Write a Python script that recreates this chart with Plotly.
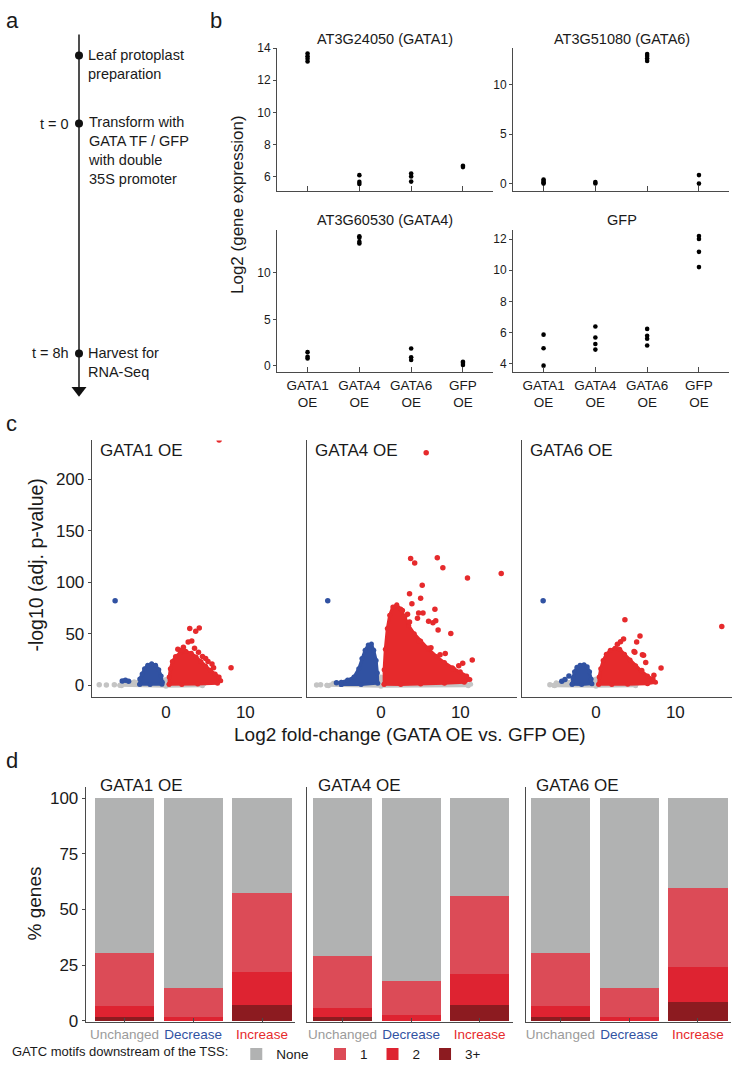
import plotly.graph_objects as go

W, H = 732, 1078
FONT = "Liberation Sans, Arial, Helvetica, sans-serif"
INK = "#1a1a1a"
AXC = "#4a4a4a"
RED = "#e62a2c"
BLUE = "#3152a2"
GRAY = "#c4c4c4"


def px(x):
    return x / W


def py(y):
    return 1 - y / H


# ---------------- panel a : protocol timeline ----------------
timeline_events = ["Leaf protoplast<br>preparation",
                   "Transform with<br>GATA TF / GFP<br>with double<br>35S promoter",
                   "Harvest for<br>RNA-Seq"]
timeline_times = ["", "t = 0", "t = 8h"]

# ---------------- panel b : expression of the transgenes ----------------
b_groups = ["GATA1<br>OE", "GATA4<br>OE", "GATA6<br>OE", "GFP<br>OE"]
b_gene_titles = ["AT3G24050 (GATA1)", "AT3G51080 (GATA6)", "AT3G60530 (GATA4)", "GFP"]
expr_AT3G24050 = [[13.17, 13.33, 13.49, 13.66], [5.55, 5.68, 6.1], [5.7, 6.02, 6.2], [6.6, 6.68]]
expr_AT3G51080 = [[0.0, 0.12, 0.27, 0.42], [0.02, 0.15], [12.4, 12.65, 12.9, 13.1], [0.0, 0.86]]
expr_AT3G60530 = [[0.81, 0.99, 1.48], [13.18, 13.36, 13.78, 13.96], [0.64, 0.92, 1.87], [0.1, 0.3, 0.45]]
expr_GFP = [[3.87, 4.99, 5.86], [4.9, 5.26, 5.68, 6.38], [5.16, 5.6, 5.79, 6.23], [10.2, 11.18, 12.0, 12.2]]

# ---------------- panel c : volcano plots ----------------
c_panels = ["GATA1 OE", "GATA4 OE", "GATA6 OE"]
# GATA1 OE
g1_gray_env_x = [-5.8, -5.5, -4.0, -2.0, 0.0, 2.0, 4.0, 4.8, 4.6, 0.0, -5.6]
g1_gray_env_y = [0.0, 2.5, 3.5, 4.0, 5.5, 4.5, 3.0, 1.5, -0.5, -1.0, -0.5]
g1_gray_x = [-8.4, -7.5, -6.5]
g1_gray_y = [0.5, 0.3, 0.4]
g1_blue_env_x = [-3.3, -3.3, -3.0, -2.7, -2.3, -1.8, -1.3, -0.9, -0.6, -0.45, -0.5, -2.0]
g1_blue_env_y = [1.0, 6.0, 11.0, 16.0, 19.5, 21.0, 19.5, 15.0, 9.0, 3.0, 1.0, 0.8]
g1_blue_x = [-5.5, -5.1, -4.7, -6.4]
g1_blue_y = [4.2, 4.8, 3.8, 82.0]
g1_red_env_x = [0.4, 0.4, 0.55, 0.8, 1.2, 1.8, 2.5, 3.2, 3.8, 4.4, 5.0, 5.6, 6.2, 6.7, 6.9, 6.5, 4.0, 2.0]
g1_red_env_y = [1.0, 8.0, 16.0, 23.0, 28.0, 31.5, 33.0, 31.0, 27.5, 23.0, 18.5, 14.5, 11.0, 8.0, 4.5, 2.0, 1.2, 0.8]
g1_red_x = [6.7, 3.0, 3.75, 4.2, 2.8, 3.25, 2.2, 4.1, 5.0, 5.8, 8.2, 1.5, 3.6, 2.0, 4.6, 5.3, 6.0]
g1_red_y = [238.0, 55.0, 52.5, 55.6, 42.0, 43.0, 37.0, 32.0, 26.0, 20.6, 17.0, 35.0, 36.0, 34.0, 28.0, 23.0, 17.0]
# GATA4 OE
g4_gray_env_x = [-6.8, -6.0, -5.0, -2.0, 0.0, 2.0, 6.0, 10.0, 11.3, 11.0, 0.0, -6.6]
g4_gray_env_y = [0.0, 2.0, 3.0, 4.0, 8.0, 5.0, 3.5, 2.5, 1.0, -0.5, -1.0, -0.5]
g4_gray_x = [-7.6, -8.1]
g4_gray_y = [0.4, 0.2]
g4_blue_env_x = [-5.0, -5.0, -4.2, -3.4, -2.8, -2.4, -2.0, -1.6, -1.2, -0.9, -0.6, -0.45, -0.4, -2.5]
g4_blue_env_y = [0.8, 3.0, 5.0, 8.0, 16.0, 26.0, 34.0, 39.0, 40.0, 34.0, 24.0, 12.0, 2.0, 0.8]
g4_blue_x = [-6.7, -5.6]
g4_blue_y = [82.0, 2.5]
g4_red_env_x = [0.4, 0.4, 0.55, 0.8, 1.1, 1.5, 2.0, 2.5, 3.0, 3.5, 4.2, 5.0, 6.0, 7.0, 8.0, 9.0, 10.0,
                10.8, 11.2, 10.5, 8.0, 5.0, 2.5]
g4_red_env_y = [1.0, 15.0, 35.0, 55.0, 68.0, 76.0, 78.0, 74.0, 66.0, 58.0, 50.0, 43.0, 35.0, 28.0, 22.0,
                17.0, 13.0, 9.0, 5.5, 3.0, 2.0, 1.3, 0.8]
g4_red_x = [5.7, 3.74, 4.25, 7.1, 7.8, 10.9, 15.15, 5.2, 3.6, 5.0, 3.9, 6.8, 2.7, 3.35, 4.75, 5.3, 2.85,
            3.6, 4.6, 6.0, 6.55, 6.9, 7.2, 8.8, 4.8, 6.3, 5.95, 8.1, 7.45, 11.5, 10.3, 9.8, 9.1]
g4_red_y = [225.5, 123.0, 118.6, 123.7, 114.0, 104.0, 108.4, 97.0, 88.7, 84.5, 79.0, 73.8, 72.5, 69.0,
            70.0, 70.0, 66.4, 61.4, 65.0, 62.0, 60.7, 62.6, 53.7, 50.2, 43.0, 36.5, 36.0, 30.8, 29.6,
            24.4, 21.3, 19.0, 15.9]
# GATA6 OE
g6_gray_env_x = [-5.3, -5.0, -3.0, 0.0, 2.0, 4.0, 5.1, 5.0, 0.0, -5.2]
g6_gray_env_y = [0.0, 2.5, 4.0, 6.0, 4.5, 3.0, 1.5, -0.5, -1.0, -0.5]
g6_gray_x = [-5.8]
g6_gray_y = [0.4]
g6_blue_env_x = [-3.0, -2.9, -2.7, -2.4, -2.0, -1.5, -1.1, -0.8, -0.6, -0.5, -1.8]
g6_blue_env_y = [1.0, 7.0, 13.0, 17.5, 19.5, 20.0, 18.0, 13.0, 6.0, 1.5, 0.8]
g6_blue_x = [-6.65, -4.3, -3.9, -3.4]
g6_blue_y = [82.0, 4.0, 5.5, 9.0]
g6_red_env_x = [0.35, 0.4, 0.6, 0.9, 1.3, 1.8, 2.4, 3.0, 3.6, 4.3, 5.0, 5.7, 6.5, 7.2, 7.5, 6.5, 4.0, 2.0]
g6_red_env_y = [1.0, 8.0, 16.0, 24.0, 30.0, 34.0, 36.0, 35.0, 30.0, 24.5, 19.0, 14.0, 9.0, 6.0, 3.0, 1.5, 1.0, 0.7]
g6_red_x = [3.65, 15.85, 5.55, 5.13, 3.48, 3.1, 2.7, 4.9, 6.0, 6.27, 8.2, 5.77, 7.3, 4.8, 5.85]
g6_red_y = [63.5, 57.0, 47.7, 42.0, 45.0, 42.3, 39.7, 32.0, 29.2, 22.0, 16.8, 14.3, 9.8, 32.7, 29.6]

# ---------------- panel d : GATC motif content ----------------
d_panels = ["GATA1 OE", "GATA4 OE", "GATA6 OE"]
d_categories = ["Unchanged", "Decrease", "Increase"]
d_category_colors = ["#9b9b9b", BLUE, RED]
motif_classes = ["None", "1", "2", "3+"]
motif_colors = ["#b1b2b2", "#dc4b57", "#de2331", "#8c1b20"]
pct_none = [[69.5, 85.4, 42.6], [70.9, 82.3, 44.1], [69.5, 85.4, 40.4]]
pct_one = [[23.9, 12.8, 35.3], [23.2, 14.9, 35.0], [23.7, 13.1, 35.6]]
pct_two = [[4.8, 1.8, 15.2], [4.4, 2.8, 13.7], [5.0, 1.5, 15.6]]
pct_three_plus = [[1.8, 0.0, 6.9], [1.5, 0.0, 7.2], [1.8, 0.0, 8.4]]

fig = go.Figure()
layout = dict(
    width=W, height=H, autosize=False,
    margin=dict(l=0, r=0, t=0, b=0),
    paper_bgcolor="white", plot_bgcolor="rgba(0,0,0,0)",
    font=dict(family=FONT, color=INK),
    barmode="stack", bargap=0.14,
    showlegend=True,
)
annotations = []


def ann(text, x, y, size, xanchor="left", yanchor="middle", color=INK, angle=0, align=None):
    annotations.append(dict(text=text, x=px(x), y=py(y), xref="paper", yref="paper",
                            showarrow=False, xanchor=xanchor, yanchor=yanchor, textangle=angle,
                            align=align or ("left" if xanchor == "left" else
                                            "right" if xanchor == "right" else "center"),
                            font=dict(size=size, color=color, family=FONT)))


def axis_common(**kw):
    d = dict(showgrid=False, zeroline=False, showline=True, linecolor=AXC, linewidth=1,
             tickcolor=AXC, tickwidth=1, fixedrange=True)
    d.update(kw)
    return d


# ---- panel a (its own invisible axes, in pixel-like units of the panel) ----
layout["xaxis11"] = dict(domain=[0, px(200)], range=[0, 200], visible=False, fixedrange=True)
layout["yaxis11"] = dict(domain=[py(400), 1], range=[400, 0], visible=False, fixedrange=True)
tl_x = 79
tl_step_y = [49.3, 118.3, 351.7]
fig.add_trace(go.Scatter(x=[tl_x, tl_x], y=[28, 386], mode="lines", line=dict(color="#222", width=1.6),
                         xaxis="x11", yaxis="y11", showlegend=False, hoverinfo="skip"))
fig.add_trace(go.Scatter(x=[tl_x] * 3, y=tl_step_y, mode="markers", marker=dict(size=8, color="#111"),
                         xaxis="x11", yaxis="y11", showlegend=False, hoverinfo="skip"))
fig.add_trace(go.Scatter(x=[tl_x], y=[389], mode="markers",
                         marker=dict(size=13, color="#111", symbol="triangle-down"),
                         xaxis="x11", yaxis="y11", showlegend=False, hoverinfo="skip"))
event_centers = [58.0, 145.5, 361.2]
for ev, tm, yc, ys in zip(timeline_events, timeline_times, event_centers, tl_step_y):
    ann(ev, 86, yc, 14.5, xanchor="left", yanchor="middle")
    if tm:
        ann(tm, 71, ys, 14.5, xanchor="right", yanchor="middle")

# ---- panel letters ----
ann("a", 4, 14, 22)
ann("b", 208, 14, 22)
ann("c", 4, 423, 22)
ann("d", 4, 765, 22)

# ---- panel b ----
b_data = [expr_AT3G24050, expr_AT3G51080, expr_AT3G60530, expr_GFP]
b_dom_x = [(277, 493), (513, 729), (277, 493), (513, 729)]
b_dom_y = [(41.7, 186.7), (41.7, 186.7), (226.7, 371), (226.7, 371)]
b_ranges = [[5.12, 14.0], [-0.74, 13.7], [-0.71, 14.59], [3.43, 12.56]]
b_ticks = [[6, 8, 10, 12, 14], [0, 5, 10], [0, 5, 10], [4, 6, 8, 10, 12]]
b_title_pos = [(385, 32), (621.7, 32), (385, 216.7), (621.7, 216.7)]
for i in range(4):
    n = i + 1
    xs, ys = [], []
    for g, vals in zip(b_groups, b_data[i]):
        xs += [g] * len(vals)
        ys += vals
    fig.add_trace(go.Scatter(x=xs, y=ys, mode="markers", marker=dict(size=4.6, color="#000"),
                             xaxis=f"x{n}", yaxis=f"y{n}", showlegend=False))
    x0, x1 = b_dom_x[i]
    y0, y1 = b_dom_y[i]
    layout[f"xaxis{n}"] = axis_common(
        domain=[px(x0), px(x1)], anchor=f"y{n}", type="category",
        categoryorder="array", categoryarray=b_groups, range=[-0.59, 3.58],
        ticks="inside", ticklen=5, showticklabels=(i >= 2),
        tickfont=dict(size=13.5, color=INK))
    layout[f"yaxis{n}"] = axis_common(
        domain=[py(y1), py(y0)], anchor=f"x{n}", range=b_ranges[i],
        tickvals=b_ticks[i], ticks="outside", ticklen=3,
        tickfont=dict(size=12, color=INK))
    ann(b_gene_titles[i], b_title_pos[i][0], b_title_pos[i][1], 14.5, xanchor="center")
ann("Log2 (gene expression)", 237, 201, 17, xanchor="center", angle=-90)

# ---- panel c ----
c_sets = [
    (g1_gray_env_x, g1_gray_env_y, g1_gray_x, g1_gray_y, g1_blue_env_x, g1_blue_env_y, g1_blue_x, g1_blue_y,
     g1_red_env_x, g1_red_env_y, g1_red_x, g1_red_y),
    (g4_gray_env_x, g4_gray_env_y, g4_gray_x, g4_gray_y, g4_blue_env_x, g4_blue_env_y, g4_blue_x, g4_blue_y,
     g4_red_env_x, g4_red_env_y, g4_red_x, g4_red_y),
    (g6_gray_env_x, g6_gray_env_y, g6_gray_x, g6_gray_y, g6_blue_env_x, g6_blue_env_y, g6_blue_x, g6_blue_y,
     g6_red_env_x, g6_red_env_y, g6_red_x, g6_red_y),
]
c_dom_x = [(91.7, 301.7), (306.7, 516.7), (521.7, 731.7)]
for i, s in enumerate(c_sets):
    n = 5 + i
    for k, col in zip(range(3), [GRAY, BLUE, RED]):
        ex, ey, ox, oy = s[4 * k], s[4 * k + 1], s[4 * k + 2], s[4 * k + 3]
        fig.add_trace(go.Scatter(x=ex + [ex[0]], y=ey + [ey[0]], mode="lines+markers", fill="toself",
                                 fillcolor=col, line=dict(color=col, width=3),
                                 marker=dict(size=5, color=col),
                                 xaxis=f"x{n}", yaxis=f"y{n}", showlegend=False, hoverinfo="skip"))
        fig.add_trace(go.Scatter(x=ox, y=oy, mode="markers", marker=dict(size=5.5, color=col),
                                 xaxis=f"x{n}", yaxis=f"y{n}", showlegend=False))
    x0, x1 = c_dom_x[i]
    layout[f"xaxis{n}"] = axis_common(
        domain=[px(x0), px(x1)], anchor=f"y{n}", range=[-9.35, 17.1], tickvals=[0, 10],
        ticks="", tickfont=dict(size=17, color=INK))
    layout[f"yaxis{n}"] = axis_common(
        domain=[py(700), py(440)], anchor=f"x{n}", range=[-11, 237.5],
        tickvals=[0, 50, 100, 150, 200], ticks="outside" if i == 0 else "", ticklen=3,
        showticklabels=(i == 0), tickfont=dict(size=17, color=INK))
    ann(c_panels[i], x0 + 6, 450, 17)
ann("Log2 fold-change (GATA OE vs. GFP OE)", 410, 738, 19, xanchor="center")
ann("-log10 (adj. p-value)", 36, 567, 19.5, xanchor="center", angle=-90)

# ---- panel d ----
d_dom_x = [(85.7, 295), (307.3, 513), (525.7, 731)]
d_xranges = [[-0.564, 2.48], [-0.513, 2.485], [-0.504, 2.48]]
d_title_x = [98, 316, 534]
tick_text = [f'<span style="color:{c}">{t}</span>' for t, c in zip(d_categories, d_category_colors)]
series = [("3+", pct_three_plus, motif_colors[3], 4, "legend2"),
          ("2", pct_two, motif_colors[2], 3, "legend2"),
          ("1", pct_one, motif_colors[1], 2, "legend2"),
          ("None", pct_none, motif_colors[0], 1, "legend")]
for i in range(3):
    n = 8 + i
    for name, vals, col, rank, lg in series:
        fig.add_trace(go.Bar(x=[0, 1, 2], y=vals[i], name=name, marker=dict(color=col, line=dict(width=0)),
                             width=0.86, xaxis=f"x{n}", yaxis=f"y{n}", legendgroup=name,
                             showlegend=(i == 0), legendrank=rank, legend=lg))
    x0, x1 = d_dom_x[i]
    layout[f"xaxis{n}"] = axis_common(
        domain=[px(x0), px(x1)], anchor=f"y{n}", range=d_xranges[i],
        tickvals=[0, 1, 2], ticktext=tick_text, ticks="inside", ticklen=4,
        tickfont=dict(size=13.5, color=INK))
    layout[f"yaxis{n}"] = axis_common(
        domain=[py(1030), py(791.7)], anchor=f"x{n}", range=[-0.44, 105.1],
        tickvals=[0, 25, 50, 75, 100], ticks="outside" if i == 0 else "", ticklen=3,
        showticklabels=(i == 0), tickfont=dict(size=17, color=INK))
    ann(d_panels[i], d_title_x[i], 790, 17)
ann("% genes", 34, 910, 19, xanchor="center", angle=-90)

layout["legend"] = dict(orientation="h", x=px(10), y=py(1063), xanchor="left", yanchor="middle",
                        title=dict(text="GATC motifs downstream of the TSS:", side="left",
                                   font=dict(size=13, color=INK)),
                        font=dict(size=13.5, color=INK), bgcolor="rgba(0,0,0,0)")
layout["legend2"] = dict(orientation="h", x=px(320), y=py(1063), xanchor="left", yanchor="middle",
                         font=dict(size=13.5, color=INK), bgcolor="rgba(0,0,0,0)", traceorder="normal")
layout["annotations"] = annotations
fig.update_layout(**layout)
# the figure fills the whole page: drop the browser's default body margin
fig.write_html("out.html", config={"displayModeBar": False},
               post_script="document.body.style.margin='0px';document.body.style.overflow='hidden';")
